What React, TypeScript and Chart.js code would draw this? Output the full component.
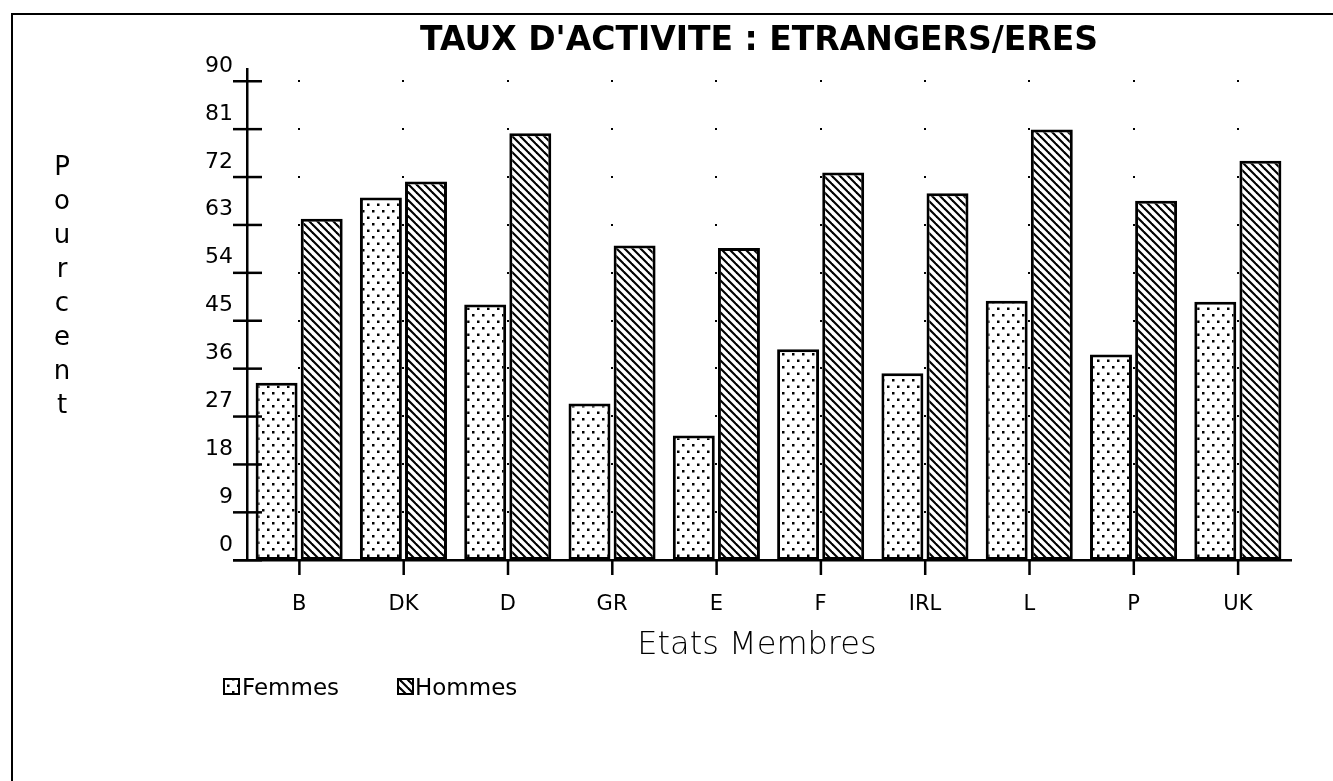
import { useEffect, useRef } from "react";
import { Chart, registerables } from "chart.js";

Chart.register(...registerables);

const categories = ["B", "DK", "D", "GR", "E", "F", "IRL", "L", "P", "UK"];
const femmes = [33.3, 68.1, 48.0, 29.4, 23.4, 39.6, 35.1, 48.7, 38.6, 48.5];
const hommes = [64.1, 71.1, 80.2, 59.1, 58.6, 72.8, 68.9, 80.9, 67.5, 75.0];
const seriesLabels = ["Femmes", "Hommes"];
const yMin = 0;
const yMax = 90;
const yStep = 9;
const titleText = "TAUX D'ACTIVITE : ETRANGERS/ERES";
const yTitleText = "Pourcent";
const xTitleText = "Etats Membres";

const FONT = "'DejaVu Sans', 'Liberation Sans', sans-serif";

function makeDots(): CanvasPattern | string {
  const w = 10;
  const h = 13;
  const c = document.createElement("canvas");
  c.width = w;
  c.height = h;
  const g = c.getContext("2d");
  if (!g) return "#fff";
  g.fillStyle = "#fff";
  g.fillRect(0, 0, w, h);
  g.fillStyle = "#000";
  g.fillRect(2, 2, 2.5, 2.5);
  g.fillRect(7, 8.5, 2.5, 2.5);
  const p = g.createPattern(c, "repeat");
  return p || "#fff";
}

function makeHatch(): CanvasPattern | string {
  const n = 8;
  const c = document.createElement("canvas");
  c.width = n;
  c.height = n;
  const g = c.getContext("2d");
  if (!g) return "#fff";
  g.fillStyle = "#fff";
  g.fillRect(0, 0, n, n);
  g.strokeStyle = "#000";
  g.lineWidth = 2.1;
  g.lineCap = "square";
  for (const k of [-n, 0, n]) {
    g.beginPath();
    g.moveTo(k, 0);
    g.lineTo(k + n, n);
    g.stroke();
  }
  const p = g.createPattern(c, "repeat");
  return p || "#fff";
}

export default function App() {
  const ref = useRef<HTMLCanvasElement | null>(null);

  useEffect(() => {
    const canvas = ref.current;
    if (!canvas) return;
    const dots = makeDots();
    const hatch = makeHatch();
    const fills = [dots, hatch];

    const decor = {
      id: "decor",
      beforeDraw(chart: any) {
        const ctx = chart.ctx;
        ctx.save();
        ctx.fillStyle = "#000";
        ctx.fillRect(11, 13, chart.width - 11, 2);
        ctx.fillRect(11, 13, 2, chart.height - 13);
        ctx.restore();
      },
      beforeDatasetsDraw(chart: any) {
        const ctx = chart.ctx;
        const x = chart.scales.x;
        const y = chart.scales.y;
        ctx.save();
        ctx.fillStyle = "#000";
        categories.forEach((_c, i) => {
          const px = x.getPixelForValue(i);
          y.ticks.forEach((t: any) => {
            if (t.value === yMin) return;
            const py = y.getPixelForValue(t.value);
            ctx.fillRect(Math.round(px) - 1, Math.round(py) - 1, 2, 2);
          });
        });
        ctx.restore();
      },
      afterDatasetsDraw(chart: any) {
        const ctx = chart.ctx;
        const x = chart.scales.x;
        const y = chart.scales.y;
        const area = chart.chartArea;
        ctx.save();
        ctx.fillStyle = "#000";
        const top = y.getPixelForValue(yMax) - 13;
        ctx.fillRect(area.left - 1, top, 2.5, area.bottom - top);
        y.ticks.forEach((t: any) => {
          const py = y.getPixelForValue(t.value);
          ctx.fillRect(area.left - 14, py - 1, 29, 2.5);
        });
        ctx.fillRect(area.left - 14, area.bottom - 1, area.right - area.left + 16, 2.5);
        categories.forEach((_c, i) => {
          const px = x.getPixelForValue(i);
          ctx.fillRect(px - 1, area.bottom, 2.5, 15);
        });
        ctx.restore();
      },
      afterDraw(chart: any) {
        const ctx = chart.ctx;
        ctx.save();
        ctx.fillStyle = "#000";
        ctx.font = `bold 33px ${FONT}`;
        ctx.textAlign = "center";
        ctx.textBaseline = "alphabetic";
        ctx.fillText(titleText, 759, 50);
        ctx.font = `26px ${FONT}`;
        yTitleText.split("").forEach((ch, i) => {
          ctx.fillText(ch, 62, 175 + i * 34);
        });
        ctx.font = `200 32px ${FONT}`;
        ctx.fillText(xTitleText, 757, 654);
        const items = [
          { bx: 223, tx: 242 },
          { bx: 397, tx: 415 },
        ];
        ctx.textAlign = "left";
        ctx.font = `23px ${FONT}`;
        items.forEach((it, i) => {
          ctx.fillStyle = fills[i];
          ctx.fillRect(it.bx, 678, 17, 17);
          ctx.lineWidth = 2;
          ctx.strokeStyle = "#000";
          ctx.strokeRect(it.bx + 1, 679, 15, 15);
          ctx.fillStyle = "#000";
          ctx.fillText(seriesLabels[i], it.tx, 695);
        });
        ctx.restore();
      },
    };

    const chart = new Chart(canvas, {
      type: "bar",
      data: {
        labels: categories,
        datasets: [
          {
            label: seriesLabels[0],
            data: femmes,
            backgroundColor: dots as any,
            borderColor: "#000",
            borderWidth: 3,
            borderSkipped: false,
            categoryPercentage: 0.865,
            barPercentage: 0.93,
          },
          {
            label: seriesLabels[1],
            data: hommes,
            backgroundColor: hatch as any,
            borderColor: "#000",
            borderWidth: 3,
            borderSkipped: false,
            categoryPercentage: 0.865,
            barPercentage: 0.93,
          },
        ],
      },
      options: {
        responsive: false,
        animation: false,
        layout: { padding: { top: 81, right: 43, left: 0, bottom: 0 } },
        plugins: {
          legend: { display: false },
          title: { display: false },
          tooltip: { enabled: false },
        },
        scales: {
          x: {
            grid: { display: false, drawTicks: false },
            border: { display: false },
            ticks: {
              color: "#000",
              font: { family: FONT, size: 21 },
              padding: 32,
              maxRotation: 0,
              autoSkip: false,
            },
            afterFit: (s: any) => {
              s.height = 221;
            },
          },
          y: {
            min: yMin,
            max: yMax,
            grid: { display: false, drawTicks: false },
            border: { display: false },
            ticks: {
              stepSize: yStep,
              color: "#000",
              font: { family: FONT, size: 22 },
              padding: 14,
              labelOffset: -15,
            },
            afterFit: (s: any) => {
              s.width = 247;
            },
          },
        },
      },
      plugins: [decor],
    });
    return () => chart.destroy();
  }, []);

  return (
    <div style={{ position: "absolute", left: 0, top: 0, width: 1333, height: 781, background: "#fff" }}>
      <canvas ref={ref} width={1333} height={781} />
    </div>
  );
}
